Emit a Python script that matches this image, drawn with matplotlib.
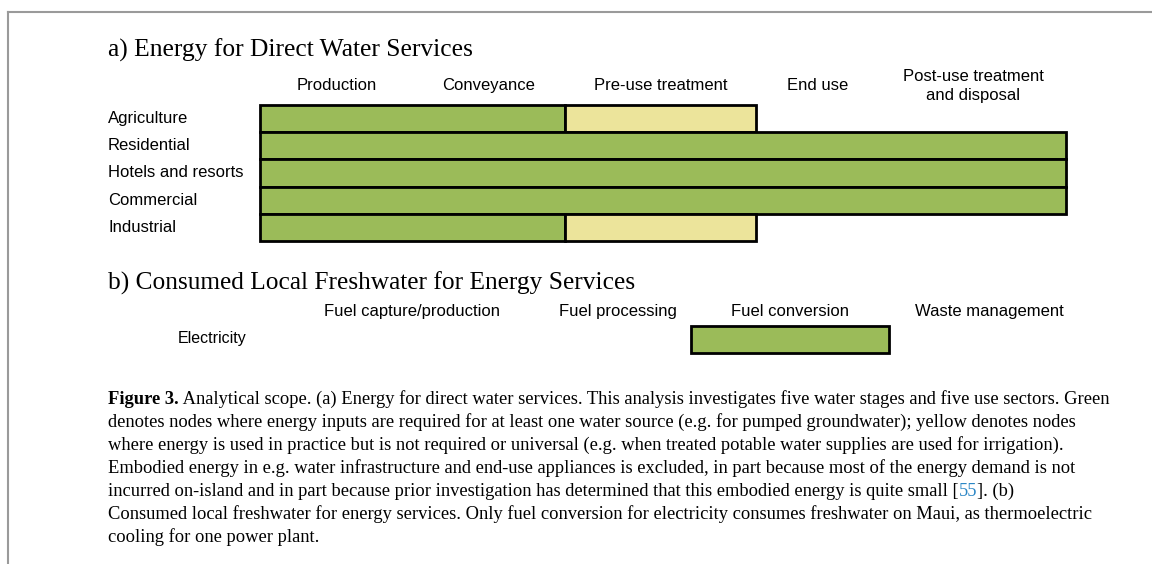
import matplotlib
matplotlib.use("Agg")
import matplotlib.pyplot as plt
import matplotlib.transforms as mtransforms

# ---- data ----
stages = ["Production", "Conveyance", "Pre-use treatment", "End use",
          "Post-use treatment\nand disposal"]
sectors = ["Agriculture", "Residential", "Hotels and resorts", "Commercial", "Industrial"]
# 2 = energy required (green), 1 = used but not required (yellow), 0 = none
energy_level = [
    [2, 2, 1, 0, 0],
    [2, 2, 2, 2, 2],
    [2, 2, 2, 2, 2],
    [2, 2, 2, 2, 2],
    [2, 2, 1, 0, 0],
]

fuel_stages = ["Fuel capture/production", "Fuel processing", "Fuel conversion",
               "Waste management"]
energy_services = ["Electricity"]
water_level = [[0, 0, 2, 0]]

caption_lines = [
    "Analytical scope. (a) Energy for direct water services. This analysis investigates five water stages and five use sectors. Green",
    "denotes nodes where energy inputs are required for at least one water source (e.g. for pumped groundwater); yellow denotes nodes",
    "where energy is used in practice but is not required or universal (e.g. when treated potable water supplies are used for irrigation).",
    "Embodied energy in e.g. water infrastructure and end-use appliances is excluded, in part because most of the energy demand is not",
    "incurred on-island and in part because prior investigation has determined that this embodied energy is quite small [",
    "Consumed local freshwater for energy services. Only fuel conversion for electricity consumes freshwater on Maui, as thermoelectric",
    "cooling for one power plant.",
]

# ---- layout ----
W, H = 1152, 564
colors = {2: "#9bbb59", 1: "#ece49b"}
serif = "Liberation Serif"
sans = "Liberation Sans"

fig = plt.figure(figsize=(W / 100, H / 100), dpi=100)


def fx(x):
    return x / W


def fy(y):
    return 1 - y / H


def make_axes(x0, x1, y0, y1):
    ax = fig.add_axes([fx(x0), fy(y1), fx(x1 - x0), (y1 - y0) / H])
    ax.set_axis_off()
    return ax


def draw_runs(ax, levels, widths):
    # merge neighbouring cells with the same level into one outlined box
    edges = [0]
    for w in widths:
        edges.append(edges[-1] + w)
    for r, row in enumerate(levels):
        i = 0
        while i < len(row):
            j = i
            while j + 1 < len(row) and row[j + 1] == row[i]:
                j += 1
            if row[i] > 0:
                ax.barh(r, edges[j + 1] - edges[i], left=edges[i], height=1.0,
                        color=colors[row[i]], edgecolor="black", linewidth=2,
                        clip_on=False)
            i = j + 1
    ax.set_xlim(0, edges[-1])
    ax.set_ylim(len(levels) - 0.5, -0.5)
    return edges


# frame lines of the page
fig.add_artist(plt.Line2D([fx(8), 1], [fy(12), fy(12)], color="#9a9a9a", lw=1.5))
fig.add_artist(plt.Line2D([fx(8), fx(8)], [fy(12), 0], color="#9a9a9a", lw=1.5))

# ---- panel a ----
fig.text(fx(108), fy(50), "a) Energy for Direct Water Services", family=serif,
         fontsize=18.4, va="center", ha="left")
ax_a = make_axes(260, 1066, 105, 241)
edges_a = draw_runs(ax_a, energy_level, [153, 152, 191, 124, 186])
tr_a = mtransforms.blended_transform_factory(ax_a.transData, fig.transFigure)
for k, name in enumerate(stages):
    cx = (edges_a[k] + edges_a[k + 1]) / 2
    if "\n" in name:
        ax_a.text(cx, fy(86), name, transform=tr_a, ha="center", va="center",
                  family=sans, fontsize=12, linespacing=1.35)
    else:
        ax_a.text(cx, fy(90.5), name, transform=tr_a, ha="center", va="baseline",
                  family=sans, fontsize=12)
tr_ay = mtransforms.blended_transform_factory(fig.transFigure, ax_a.transData)
for r, name in enumerate(sectors):
    fig.text(fx(108), r + 0.16, name, transform=tr_ay, ha="left", va="baseline",
             family=sans, fontsize=12)

# ---- panel b ----
fig.text(fx(108), fy(283), "b) Consumed Local Freshwater for Energy Services",
         family=serif, fontsize=18.3, va="center", ha="left")
ax_b = make_axes(279, 1089, 326, 353)
edges_b = draw_runs(ax_b, water_level, [266, 146, 198, 200])
tr_b = mtransforms.blended_transform_factory(ax_b.transData, fig.transFigure)
for k, name in enumerate(fuel_stages):
    ax_b.text((edges_b[k] + edges_b[k + 1]) / 2, fy(316), name, transform=tr_b,
              ha="center", va="baseline", family=sans, fontsize=12)
tr_by = mtransforms.blended_transform_factory(fig.transFigure, ax_b.transData)
for r, name in enumerate(energy_services):
    fig.text(fx(212), r + 0.14, name, transform=tr_by, ha="center", va="baseline",
             family=sans, fontsize=11.5)

# ---- caption ----
renderer = fig.canvas.get_renderer()
cap_size = 13.3


def put_run(x, y, s, **kw):
    t = fig.text(fx(x), fy(y), s, family=serif, fontsize=cap_size, va="baseline",
                 ha="left", **kw)
    bb = t.get_window_extent(renderer)
    return x + bb.width


y0 = 404
for n, line in enumerate(caption_lines):
    y = y0 + n * 23
    x = 108
    if n == 0:
        x = put_run(x, y, "Figure 3.", weight="bold")
        x = put_run(x, y, " " + line)
    elif n == 4:
        x = put_run(x, y, line)
        x = put_run(x, y, "55", color="#2b86c5")
        x = put_run(x, y, "]. (b)")
    else:
        put_run(x, y, line)

fig.savefig("out.png", dpi=100)
